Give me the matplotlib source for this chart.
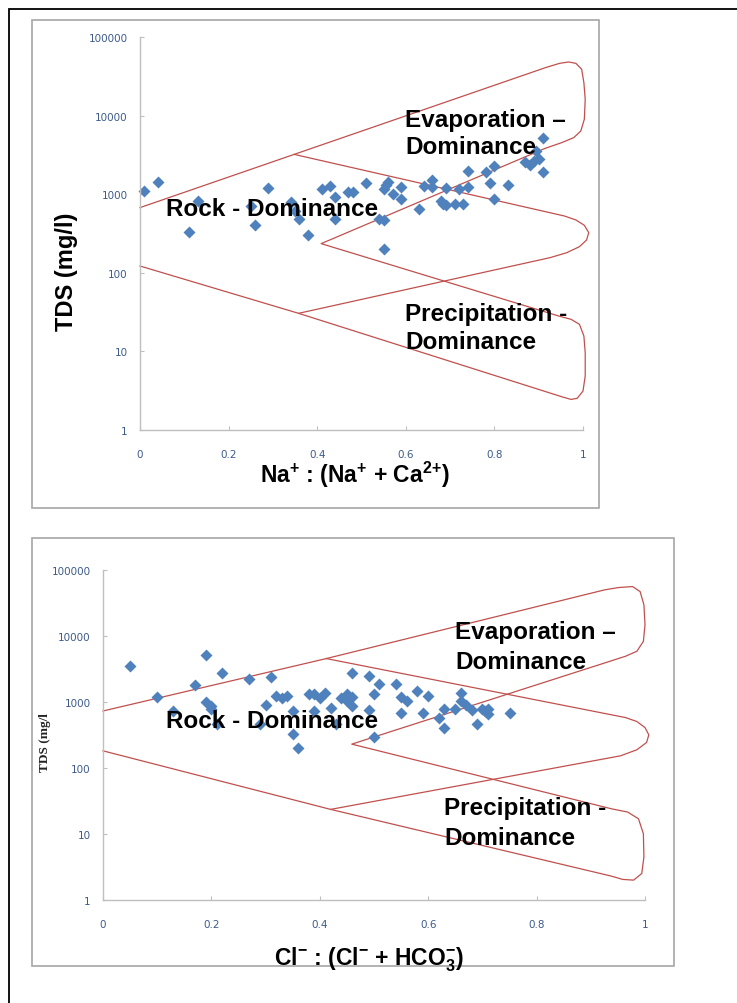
import numpy as np
import matplotlib.pyplot as plt
from matplotlib.patches import Rectangle

# ---- data ----
# panel 1 : Na+/(Na+ + Ca2+) vs TDS
na_ratio = [0.01, 0.04, 0.11, 0.13, 0.25, 0.26, 0.29, 0.34, 0.35, 0.36,
            0.38, 0.41, 0.43, 0.44, 0.44, 0.47, 0.48, 0.51, 0.54, 0.55,
            0.55, 0.55, 0.555, 0.56, 0.57, 0.59, 0.59, 0.63, 0.64, 0.66,
            0.66, 0.68, 0.685, 0.69, 0.69, 0.71, 0.72, 0.73, 0.74, 0.74,
            0.78, 0.79, 0.80, 0.80, 0.83, 0.87, 0.88, 0.89, 0.90, 0.895,
            0.91, 0.91]
tds_na = [1100, 1420, 333, 830, 700, 405, 1190, 800, 620, 480,
          300, 1165, 1280, 910, 480, 1070, 1070, 1380, 480, 470,
          200, 1150, 1300, 1420, 1000, 1220, 870, 645, 1280, 1530,
          1220, 830, 760, 720, 1190, 750, 1165, 750, 1250, 2000,
          1900, 1380, 2260, 880, 1310, 2550, 2350, 2670, 2800, 3500,
          5130, 1900]

# panel 2 : Cl-/(Cl- + HCO3-) vs TDS
cl_ratio = [0.05, 0.10, 0.13, 0.17, 0.19, 0.19, 0.20, 0.20, 0.21, 0.22,
            0.27, 0.29, 0.30, 0.31, 0.32, 0.33, 0.34, 0.35, 0.35, 0.36,
            0.38, 0.39, 0.39, 0.40, 0.41, 0.42, 0.43, 0.44, 0.45, 0.45,
            0.46, 0.46, 0.46, 0.49, 0.49, 0.50, 0.50, 0.51, 0.54, 0.55,
            0.55, 0.56, 0.58, 0.59, 0.60, 0.62, 0.63, 0.63, 0.65, 0.66,
            0.66, 0.67, 0.68, 0.69, 0.70, 0.705, 0.71, 0.71, 0.75]
tds_cl = [3500, 1200, 740, 1830, 5100, 1000, 880, 780, 460, 2750,
          2200, 460, 900, 2400, 1250, 1150, 1250, 740, 330, 200,
          1300, 1300, 740, 1150, 1350, 820, 470, 1150, 1300, 1050,
          1200, 880, 2750, 2500, 760, 1340, 300, 1900, 1860, 1200,
          680, 1050, 1480, 680, 1250, 580, 780, 400, 790, 1380,
          1050, 900, 760, 470, 790, 740, 660, 770, 680]

# Gibbs boundary lines (traced)
g1_outer_x = [0.0, 0.348, 0.915, 0.947, 0.968, 0.984, 0.997, 1.002, 1.005, 1.003,
              0.995, 0.979, 0.952, 0.915, 0.409, 0.947, 0.973, 0.992, 1.002, 1.005,
              1.005, 1.0, 0.987, 0.973, 0.952, 0.358, 0.0]
g1_outer_y = [675, 3210, 40700, 46200, 48100, 46200, 38800, 26200, 16100, 8970,
              6370, 5240, 4530, 3840, 235, 28, 25.6, 22.1, 15.7, 9.6,
              4.86, 3.13, 2.53, 2.45, 2.65, 30.5, 122]
g1_mid_x = [0.348, 0.958, 0.984, 1.003, 1.013, 1.008, 0.992, 0.963, 0.926, 0.358]
g1_mid_y = [3210, 528, 470, 402, 324, 261, 215, 180, 156, 30.5]

g2_outer_x = [0.0, 0.412, 0.925, 0.951, 0.977, 0.991, 0.998, 1.0, 0.997, 0.985,
              0.964, 0.459, 0.938, 0.968, 0.988, 0.997, 0.998, 0.994, 0.979, 0.959,
              0.938, 0.420, 0.0]
g2_outer_y = [731, 4550, 49900, 54200, 56100, 47100, 29700, 14800, 8300, 5870,
              4930, 230, 24.1, 21.5, 17.0, 10.1, 4.5, 2.52, 2.0, 2.05,
              2.3, 23.6, 182]
g2_mid_x = [0.412, 0.964, 0.985, 1.0, 1.007, 1.003, 0.985, 0.955, 0.420]
g2_mid_y = [4550, 581, 506, 410, 318, 244, 189, 153, 23.6]

x_ticks = [0, 0.2, 0.4, 0.6, 0.8, 1]
x_ticklabels = ['0', '0.2', '0.4', '0.6', '0.8', '1']
y_ticks = [1, 10, 100, 1000, 10000, 100000]
y_ticklabels = ['1', '10', '100', '1000', '10000', '100000']

plt.rcParams['mathtext.fontset'] = 'custom'
plt.rcParams['mathtext.rm'] = 'Liberation Sans:bold'
plt.rcParams['mathtext.bf'] = 'Liberation Sans:bold'
plt.rcParams['mathtext.default'] = 'rm'

W, H = 737, 1004
fig = plt.figure(figsize=(W / 100, H / 100), dpi=100)

def fx(x):
    return x / W

def fy(y):
    return 1 - y / H

# outer frame (runs off the right/bottom edge) and the two panel frames
fig.patches.append(Rectangle((fx(9), fy(1020)), fx(740), 1010 / H, transform=fig.transFigure,
                             fill=False, ec='black', lw=1.3))
fig.patches.append(Rectangle((fx(32), fy(509)), fx(567), 488 / H, transform=fig.transFigure,
                             fill=False, ec='#a6a6a6', lw=1.2))
fig.patches.append(Rectangle((fx(32), fy(967)), fx(642), 428 / H, transform=fig.transFigure,
                             fill=False, ec='#a6a6a6', lw=1.2))

red = '#c0504d'
blue = '#4f81bd'
tick_col = '#3d5a8c'
bold = dict(family='Liberation Sans', weight='bold', color='black')

def setup(ax):
    ax.set_yscale('log')
    ax.set_xlim(0, 1)
    ax.set_ylim(1, 100000)
    ax.set_xticks(x_ticks)
    ax.set_xticklabels(x_ticklabels)
    ax.set_yticks(y_ticks)
    ax.set_yticklabels(y_ticklabels)
    ax.minorticks_off()
    for s in ['top', 'right']:
        ax.spines[s].set_visible(False)
    for s in ['left', 'bottom']:
        ax.spines[s].set_color('#bfbfbf')
        ax.spines[s].set_linewidth(1.0)
    ax.tick_params(axis='both', direction='in', length=3, color='#bfbfbf',
                   labelsize=7.5, labelcolor=tick_col)
    ax.tick_params(axis='x', pad=14)
    ax.tick_params(axis='y', pad=9)
    ax.patch.set_alpha(0)

# panel 1
ax1 = fig.add_axes([fx(140), fy(431), fx(583 - 140), (431 - 38) / H])
setup(ax1)
ax1.plot(g1_outer_x, g1_outer_y, color=red, lw=0.9, clip_on=False)
ax1.plot(g1_mid_x, g1_mid_y, color=red, lw=0.9, clip_on=False)
ax1.plot(na_ratio, tds_na, 'D', color=blue, ms=6.5, mec='none', clip_on=False)

fig.text(fx(66), fy(272), 'TDS (mg/l)', rotation=90, ha='center', va='center', fontsize=17, **bold)
fig.text(fx(355), fy(475), r'Na$^{+}$ : (Na$^{+}$ + Ca$^{2{+}}$)', ha='center', va='center', fontsize=16.5, **bold)
fig.text(fx(405), fy(127), 'Evaporation \u2013', ha='left', va='baseline', fontsize=17.5, **bold)
fig.text(fx(405), fy(154), 'Dominance', ha='left', va='baseline', fontsize=17.5, **bold)
fig.text(fx(166), fy(216), 'Rock - Dominance', ha='left', va='baseline', fontsize=17.5, **bold)
fig.text(fx(405), fy(321), 'Precipitation -', ha='left', va='baseline', fontsize=17.5, **bold)
fig.text(fx(405), fy(349), 'Dominance', ha='left', va='baseline', fontsize=17.5, **bold)

# panel 2
ax2 = fig.add_axes([fx(103), fy(901), fx(645 - 103), (901 - 571) / H])
setup(ax2)
ax2.plot(g2_outer_x, g2_outer_y, color=red, lw=0.9, clip_on=False)
ax2.plot(g2_mid_x, g2_mid_y, color=red, lw=0.9, clip_on=False)
ax2.plot(cl_ratio, tds_cl, 'D', color=blue, ms=6.5, mec='none', clip_on=False)

fig.text(fx(45), fy(743), 'TDS (mg/l', rotation=90, ha='center', va='center', fontsize=9.5,
         family='Liberation Serif', weight='bold', color='#222222')
fig.text(fx(369), fy(960), r'Cl$^{-}$ : (Cl$^{-}$ + HCO$_{3}^{-}$)', ha='center', va='center', fontsize=16.5, **bold)
fig.text(fx(455), fy(639), 'Evaporation \u2013', ha='left', va='baseline', fontsize=17.5, **bold)
fig.text(fx(455), fy(669), 'Dominance', ha='left', va='baseline', fontsize=17.5, **bold)
fig.text(fx(166), fy(728), 'Rock - Dominance', ha='left', va='baseline', fontsize=17.5, **bold)
fig.text(fx(444), fy(815), 'Precipitation -', ha='left', va='baseline', fontsize=17.5, **bold)
fig.text(fx(444), fy(845), 'Dominance', ha='left', va='baseline', fontsize=17.5, **bold)

fig.savefig('out.png', dpi=100)
